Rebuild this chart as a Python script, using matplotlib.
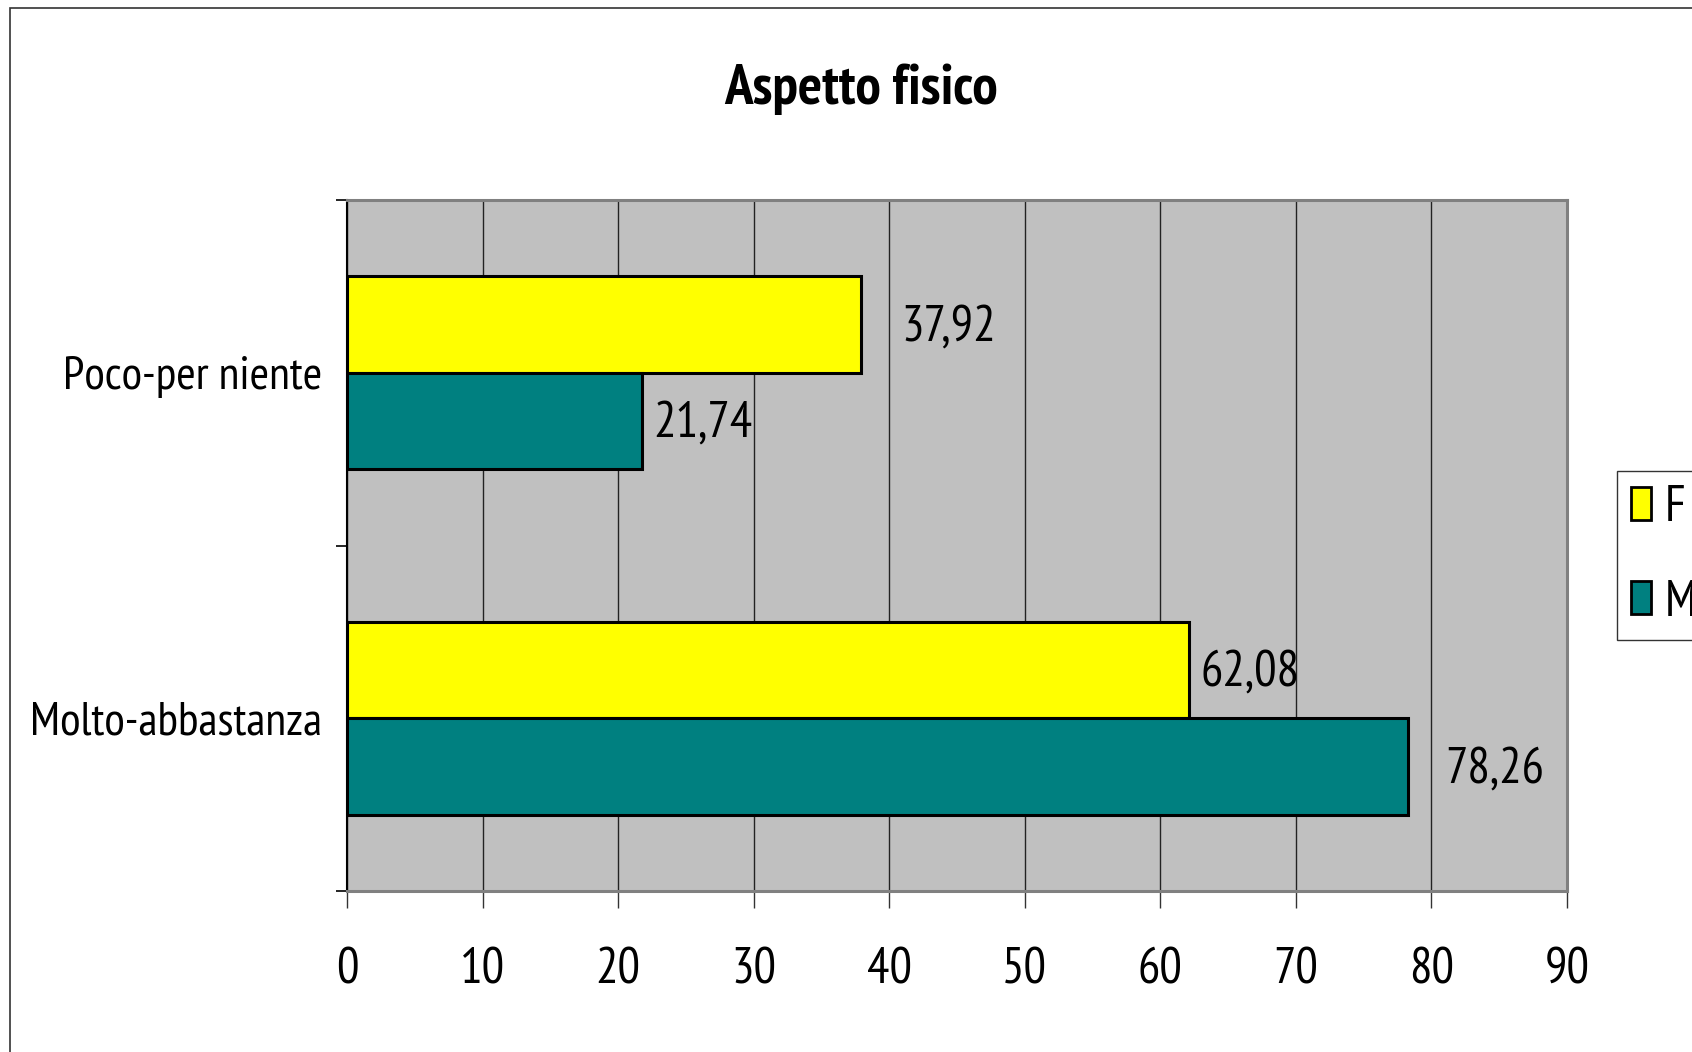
import matplotlib
matplotlib.use("Agg")
import numpy as np
import matplotlib.pyplot as plt
from matplotlib.patches import Patch, Rectangle

# ------------------------------------------------------------
# Data
# ------------------------------------------------------------
TITLE = "Aspetto fisico"
categories = ["Poco-per niente", "Molto-abbastanza"]   # top to bottom
series_names = ["F", "M"]
values_F = [37.92, 62.08]
values_M = [21.74, 78.26]
labels_F = ["37,92", "62,08"]
labels_M = ["21,74", "78,26"]
xticks = [0, 10, 20, 30, 40, 50, 60, 70, 80, 90]

# label offsets from bar end, in points (as placed in the original)
off_F = [29, 8.5]
off_M = [8, 27]

COL_F = "#FFFF00"
COL_M = "#008080"
BG = "#C0C0C0"

FONT = ["PT Sans Narrow", "Roboto Condensed", "DejaVu Sans"]
plt.rcParams["font.family"] = FONT

W, H = 1692, 1052
fig = plt.figure(figsize=(W / 100, H / 100), dpi=100)
fig.patch.set_facecolor("white")

# outer chart border (right/bottom edges fall outside the picture)
fig.patches.append(Rectangle((10 / W, -0.05), 1.1, 1 - 8 / H + 0.05,
                             transform=fig.transFigure, fill=False,
                             edgecolor="#333333", linewidth=1.2, zorder=0))

ax = fig.add_axes([347 / W, 1 - 891 / H, (1567 - 347) / W, (891 - 200) / H])
ax.set_facecolor(BG)

n = len(categories)
ypos = np.arange(n)[::-1]          # top category at the top
bh = 0.28

ax.barh(ypos + bh / 2, values_F, height=bh, color=COL_F, edgecolor="black",
        linewidth=2.2, zorder=3, label=series_names[0])
ax.barh(ypos - bh / 2, values_M, height=bh, color=COL_M, edgecolor="black",
        linewidth=2.2, zorder=3, label=series_names[1])

for i in range(n):
    ax.annotate(labels_F[i], (values_F[i], ypos[i] + bh / 2), xytext=(off_F[i], -2),
                textcoords="offset points", ha="left", va="center", fontsize=36, zorder=4)
    ax.annotate(labels_M[i], (values_M[i], ypos[i] - bh / 2), xytext=(off_M[i], -2),
                textcoords="offset points", ha="left", va="center", fontsize=36, zorder=4)

ax.set_xlim(0, 90)
ax.set_ylim(-0.5, n - 0.5)

ax.set_xticks(xticks)
ax.set_xticklabels([str(t) for t in xticks], fontsize=36)
ax.tick_params(axis="x", length=12, width=1.0, color="#333333", pad=29)

# category separators as major ticks, names on minor ticks
ax.set_yticks(np.arange(-0.5, n, 1.0))
ax.set_yticklabels([])
ax.tick_params(axis="y", which="major", length=8, width=1.2, color="black")
ax.set_yticks(ypos, minor=True)
ax.set_yticklabels(categories, minor=True, fontsize=34)
ax.tick_params(axis="y", which="minor", length=0, pad=18)

ax.grid(axis="x", color="#222222", linewidth=1.0, zorder=1)
ax.set_axisbelow(True)

ax.spines["left"].set_color("black")
ax.spines["left"].set_linewidth(1.5)
for s in ["top", "right", "bottom"]:
    ax.spines[s].set_color("#808080")
    ax.spines[s].set_linewidth(2.2)

fig.text(861 / W, 1 - 89 / H, TITLE, ha="center", va="center",
         fontsize=41, fontweight="bold")

handles = [Patch(facecolor=COL_F, edgecolor="black", linewidth=2),
           Patch(facecolor=COL_M, edgecolor="black", linewidth=2)]
leg = fig.legend(handles, series_names, loc="upper left",
                 bbox_to_anchor=(1617 / W, 1 - 471 / H), fontsize=36,
                 handlelength=0.40, handleheight=0.64, handletextpad=0.27,
                 borderpad=0.28, labelspacing=0.97, borderaxespad=0,
                 frameon=True, fancybox=False)
leg.get_frame().set_edgecolor("black")
leg.get_frame().set_linewidth(1.0)

fig.savefig("out.png", dpi=100)
